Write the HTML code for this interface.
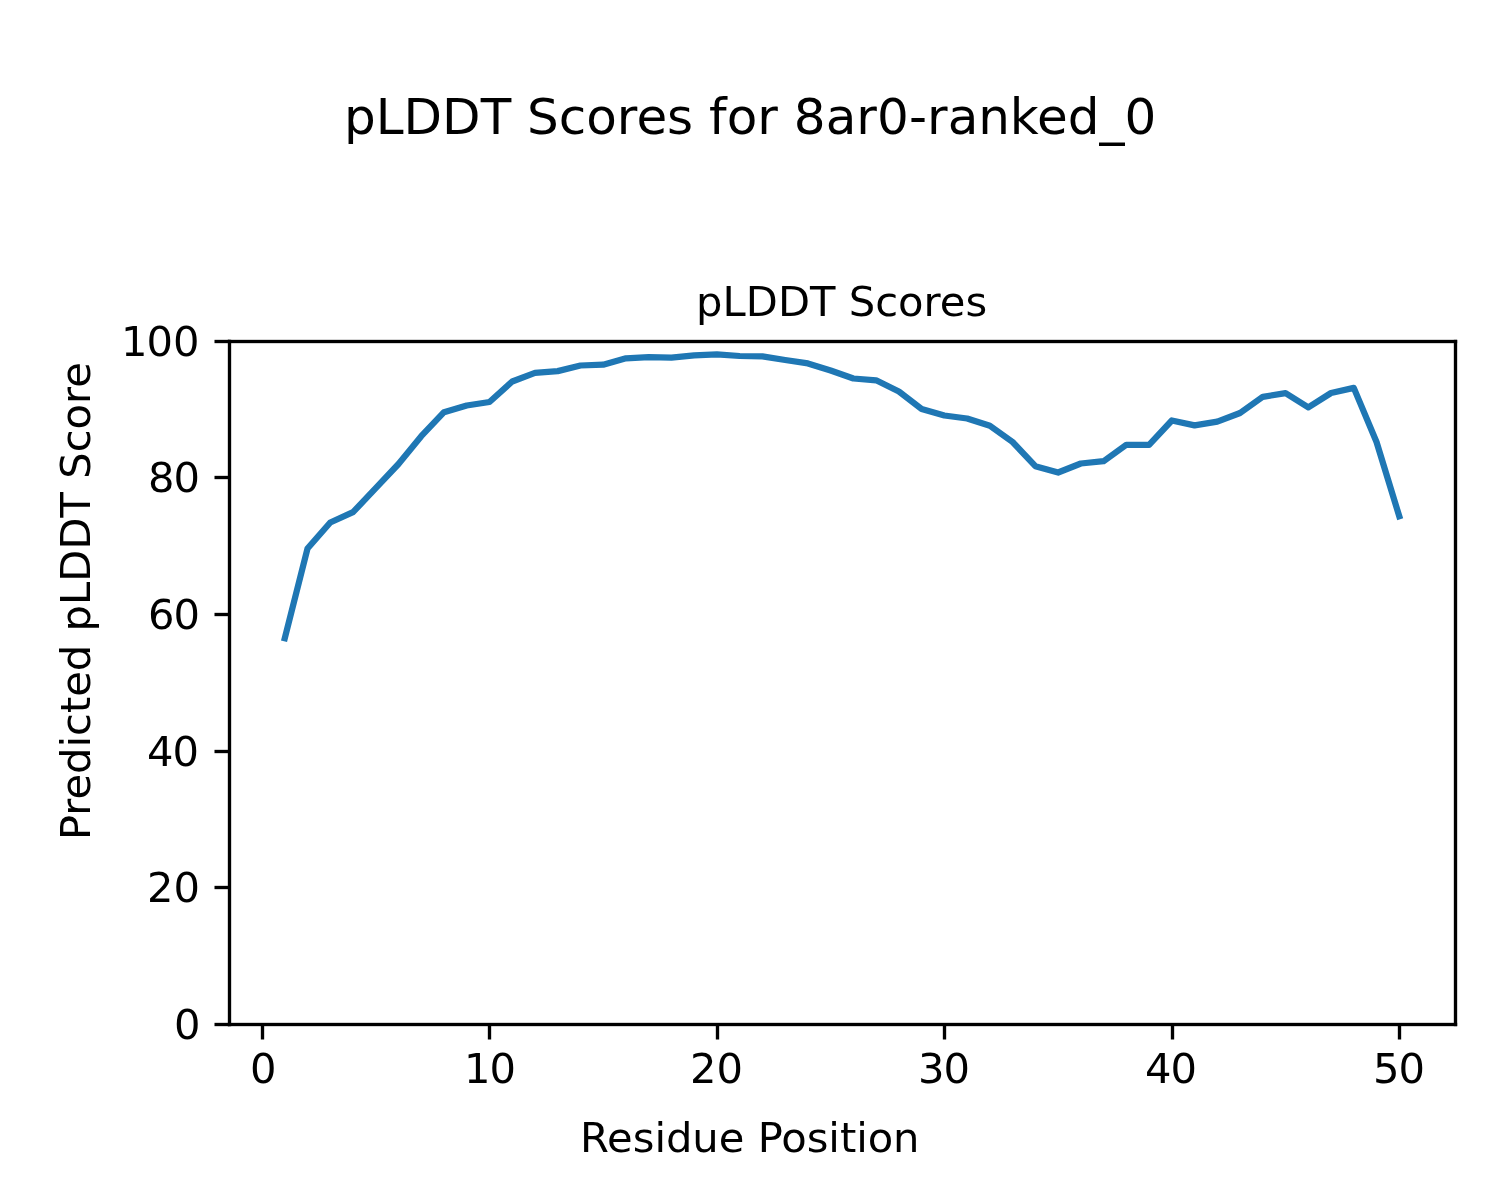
<!DOCTYPE html>
<html lang="en"><head><meta charset="utf-8"><title>pLDDT Scores for 8ar0-ranked_0</title>
<style>
html,body{margin:0;padding:0;background:#fff;}
body{width:1500px;height:1200px;overflow:hidden;}
svg{display:block;}
text{font-family:"DejaVu Sans","Liberation Sans",sans-serif;fill:#000;white-space:pre;}
.t10{font-size:41.6667px;}
.t12{font-size:50px;}
</style></head><body>
<svg width="1500" height="1200" viewBox="0 0 1500 1200">
<rect x="0" y="0" width="1500" height="1200" fill="#ffffff"/>
<polyline points="284.78,638.20 307.52,548.50 330.26,522.50 353.01,512.20 375.75,488.20 398.50,464.00 421.24,436.20 443.99,412.20 466.73,405.50 489.48,402.00 512.22,381.50 534.97,372.90 557.71,371.10 580.46,365.50 603.20,364.70 625.95,358.30 648.69,357.10 671.44,357.60 694.18,355.30 716.93,354.30 739.67,356.00 762.42,356.30 785.16,360.00 807.91,363.40 830.65,370.50 853.40,378.50 876.14,380.30 898.89,391.50 921.63,409.00 944.38,415.50 967.12,418.50 989.87,425.80 1012.61,442.00 1035.36,466.20 1058.10,472.50 1080.85,463.50 1103.59,461.20 1126.34,444.80 1149.08,444.80 1171.83,420.50 1194.57,425.40 1217.32,421.70 1240.06,413.00 1262.81,396.80 1285.55,393.20 1308.30,407.40 1331.04,393.00 1353.79,387.90 1376.53,442.00 1399.28,516.30" fill="none" stroke="#1f77b4" stroke-width="6.25" stroke-linejoin="round" stroke-linecap="square"/>
<g fill="#000" stroke="none">
<rect x="260.833" y="1024.500" width="3.333" height="15.000"/>
<rect x="487.833" y="1024.500" width="3.333" height="15.000"/>
<rect x="715.833" y="1024.500" width="3.333" height="15.000"/>
<rect x="942.833" y="1024.500" width="3.333" height="15.000"/>
<rect x="1170.833" y="1024.500" width="3.333" height="15.000"/>
<rect x="1397.833" y="1024.500" width="3.333" height="15.000"/>
<rect x="214.500" y="1022.833" width="15.000" height="3.333"/>
<rect x="214.500" y="885.833" width="15.000" height="3.333"/>
<rect x="214.500" y="749.833" width="15.000" height="3.333"/>
<rect x="214.500" y="612.833" width="15.000" height="3.333"/>
<rect x="214.500" y="475.833" width="15.000" height="3.333"/>
<rect x="214.500" y="339.833" width="15.000" height="3.333"/>
<rect x="227.833" y="339.760" width="3.333" height="686.480"/>
<rect x="1453.833" y="339.833" width="3.333" height="686.334"/>
<rect x="227.833" y="339.833" width="1229.334" height="3.333"/>
<rect x="227.833" y="1022.833" width="1229.334" height="3.333"/>
</g>
<text class="t10" x="250.01" y="1083">0</text>
<text class="t10" x="463.97 489.51" y="1083">10</text>
<text class="t10" x="689.93 716.51" y="1083">20</text>
<text class="t10" x="918.05 943.51" y="1083">30</text>
<text class="t10" x="1145.02 1170.51" y="1083">40</text>
<text class="t10" x="1373.02 1398.51" y="1083">50</text>
<text class="t10" x="174.01" y="1039">0</text>
<text class="t10" x="146.93 173.51" y="902">20</text>
<text class="t10" x="147.02 172.51" y="766">40</text>
<text class="t10" x="148.01 173.51" y="629">60</text>
<text class="t10" x="148.07 173.51" y="492">80</text>
<text class="t10" x="120.97 146.51 173.01" y="356">100</text>
<text class="t12" x="343.98 375.72 403.59 442.09 480.67 511.06 527.06 558.74 586.25 616.83 636.41 667.12 693.06 709.12 726.75 757.33 777.81 793.86 825.76 856.33 876.92 908.92 926.95 947.64 978.20 1009.83 1037.04 1067.77 1099.50 1124.42" y="134">pLDDT Scores for 8ar0-ranked_0</text>
<text class="t10" x="696.00 722.52 745.77 777.89 810.02 835.96 848.75 875.19 898.06 923.45 939.70 965.44" y="316">pLDDT Scores</text>
<text class="t10" x="580.04 607.08 632.82 654.45 665.96 692.36 718.70 744.62 757.67 781.18 806.69 828.33 839.90 856.20 867.68 893.11" y="1152">Residue Position</text>
<text class="t10" transform="translate(90.4,840.1) rotate(-90)" x="0.04 24.32 40.58 66.21 92.58 104.06 127.02 143.33 168.96 195.38 208.62 235.15 258.39 290.52 322.65 348.12 361.37 387.81 410.68 436.07 452.33" y="0">Predicted pLDDT Score</text>
</svg>
</body></html>
